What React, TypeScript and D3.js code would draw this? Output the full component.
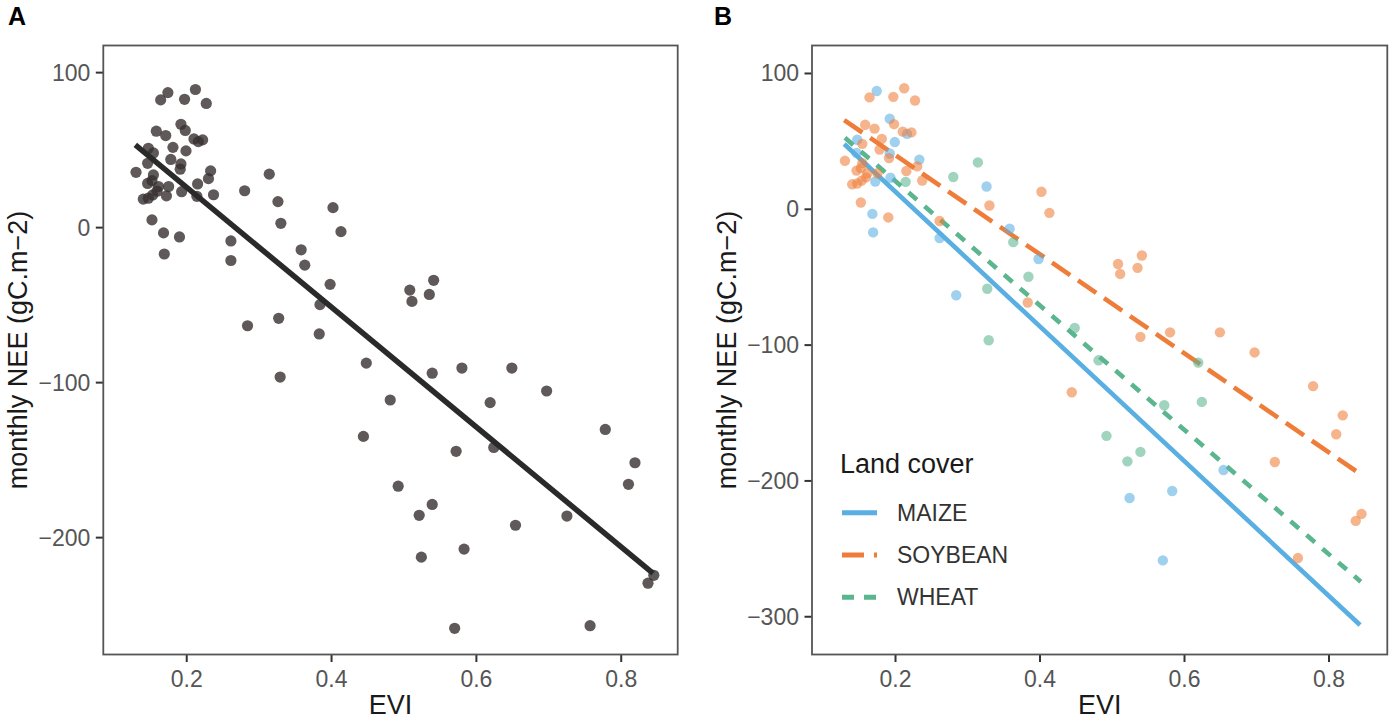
import { useEffect, useRef } from 'react';
import * as d3 from 'd3';

type Pt = [number, number]; // [EVI, monthly NEE]

// points per land cover (same points drawn grey in panel A)
const maize: Pt[] = [
  [0.174, 87.1], [0.192, 66.7], [0.216, 55.5], [0.199, 49.5], [0.147, 51.2],
  [0.192, 41.1], [0.146, 41.5], [0.233, 36.6], [0.193, 23.2], [0.172, 20.5],
  [0.168, -3.4], [0.169, -17.0], [0.261, -21.2], [0.326, 16.8], [0.358, -14.3],
  [0.398, -36.6], [0.284, -63.3], [0.654, -192.0], [0.583, -207.4], [0.524, -212.6],
  [0.570, -258.5],
];

const soybean: Pt[] = [
  [0.164, 82.4], [0.212, 89.1], [0.197, 82.8], [0.227, 80.1], [0.198, 62.7],
  [0.158, 62.2], [0.171, 59.4], [0.210, 57.2], [0.222, 56.6], [0.181, 51.8],
  [0.154, 48.2], [0.178, 44.0], [0.130, 35.7], [0.191, 37.7], [0.154, 34.0],
  [0.152, 30.3], [0.230, 31.6], [0.146, 28.5], [0.161, 26.5], [0.175, 26.5],
  [0.215, 28.2], [0.159, 23.5], [0.153, 21.1], [0.237, 21.2], [0.140, 18.4],
  [0.147, 19.0], [0.152, 5.0], [0.190, -6.0], [0.261, -8.6], [0.330, 2.8],
  [0.402, 12.9], [0.413, -2.6], [0.383, -68.6], [0.508, -40.3], [0.511, -47.6],
  [0.541, -34.0], [0.535, -43.1], [0.539, -93.9], [0.580, -90.6], [0.649, -90.6],
  [0.697, -105.4], [0.444, -134.7], [0.778, -130.2], [0.819, -151.7], [0.810, -165.6],
  [0.725, -186.1], [0.845, -224.3], [0.837, -229.4], [0.757, -256.8],
];

const wheat: Pt[] = [
  [0.214, 20.2], [0.280, 23.8], [0.314, 34.5], [0.363, -24.2], [0.384, -49.7],
  [0.327, -58.5], [0.329, -96.4], [0.448, -87.4], [0.481, -111.2], [0.619, -112.9],
  [0.572, -144.3], [0.624, -141.8], [0.492, -166.8], [0.539, -178.6], [0.521, -185.6],
];

// fitted lines, start and end
const fitAll: Pt[] = [[0.129, 53.4], [0.844, -223.0]];
const fitMaize: Pt[] = [[0.129, 48.1], [0.843, -306.1]];
const fitSoybean: Pt[] = [[0.129, 65.7], [0.845, -195.5]];
const fitWheat: Pt[] = [[0.130, 52.7], [0.844, -274.2]];

const coverNames = ['MAIZE', 'SOYBEAN', 'WHEAT'];
const xTicks = [0.2, 0.4, 0.6, 0.8];
const yTicksA = [100, 0, -100, -200];
const yTicksB = [100, 0, -100, -200, -300];

const FONT = '"Liberation Sans", Arial, Helvetica, sans-serif';
const COLORS = ['#5aafe2', '#ef7d3a', '#5bb58f'];
const DASH_LINE = ['', '22,9.5', '11,10'];
const DASH_KEY = ['', '22,10', '12,10'];

type Panel = {
  left: number; right: number; top: number; bottom: number;
  xDomain: [number, number]; yDomain: [number, number];
  yTicks: number[]; label: string; labelX: number; titleX: number;
};

function drawAxes(g: d3.Selection<SVGGElement, unknown, null, undefined>, p: Panel) {
  const x = d3.scaleLinear().domain(p.xDomain).range([p.left, p.right]);
  const y = d3.scaleLinear().domain(p.yDomain).range([p.bottom, p.top]);
  const fmtY = d3.format('d');
  const fmtX = d3.format('.1f');

  // y ticks
  g.selectAll(null).data(p.yTicks).join('line')
    .attr('x1', p.left - 7.5).attr('x2', p.left)
    .attr('y1', (d) => y(d)).attr('y2', (d) => y(d))
    .attr('stroke', '#333').attr('stroke-width', 2);
  g.selectAll(null).data(p.yTicks).join('text')
    .attr('x', p.left - 13).attr('y', (d) => y(d))
    .attr('text-anchor', 'end').attr('dominant-baseline', 'central')
    .attr('font-family', FONT).attr('font-size', 23).attr('fill', '#555')
    .text((d) => fmtY(d));

  // x ticks
  g.selectAll(null).data(xTicks).join('line')
    .attr('x1', (d) => x(d)).attr('x2', (d) => x(d))
    .attr('y1', p.bottom).attr('y2', p.bottom + 7.5)
    .attr('stroke', '#333').attr('stroke-width', 2);
  g.selectAll(null).data(xTicks).join('text')
    .attr('x', (d) => x(d)).attr('y', p.bottom + 32)
    .attr('text-anchor', 'middle')
    .attr('font-family', FONT).attr('font-size', 23).attr('fill', '#555')
    .text((d) => fmtX(d));

  // axis titles
  g.append('text')
    .attr('x', (p.left + p.right) / 2).attr('y', 714)
    .attr('text-anchor', 'middle')
    .attr('font-family', FONT).attr('font-size', 27).attr('fill', '#1a1a1a')
    .text('EVI');
  g.append('text')
    .attr('transform', `translate(${p.titleX},${(p.top + p.bottom) / 2}) rotate(-90)`)
    .attr('text-anchor', 'middle').attr('dominant-baseline', 'central')
    .attr('font-family', FONT).attr('font-size', 27).attr('fill', '#1a1a1a')
    .text('monthly NEE (gC.m\u22122)');

  // panel tag
  g.append('text')
    .attr('x', p.labelX).attr('y', 25)
    .attr('font-family', FONT).attr('font-size', 25).attr('font-weight', 'bold')
    .attr('fill', '#000')
    .text(p.label);

  return { x, y };
}

function drawBorder(g: d3.Selection<SVGGElement, unknown, null, undefined>, p: Panel) {
  g.append('rect')
    .attr('x', p.left).attr('y', p.top)
    .attr('width', p.right - p.left).attr('height', p.bottom - p.top)
    .attr('fill', 'none').attr('stroke', '#555').attr('stroke-width', 1.8);
}

export default function App() {
  const svgRef = useRef<SVGSVGElement>(null);

  useEffect(() => {
    document.body.style.margin = '0';
    if (!svgRef.current) return;
    const svg = d3.select(svgRef.current);
    svg.selectAll('*').remove();

    const panelA: Panel = {
      left: 103.3, right: 677.7, top: 45.5, bottom: 654.5,
      xDomain: [0.0848, 0.878], yDomain: [-275.4, 117.5],
      yTicks: yTicksA, label: 'A', labelX: 8, titleX: 18,
    };
    const panelB: Panel = {
      left: 812, right: 1387.3, top: 45.5, bottom: 654.5,
      xDomain: [0.0844, 0.8807], yDomain: [-327.8, 120.6],
      yTicks: yTicksB, label: 'B', labelX: 714, titleX: 727,
    };

    const groups = [maize, soybean, wheat];
    const fits = [fitMaize, fitSoybean, fitWheat];

    // Panel A: all points in grey with one fit
    const gA = svg.append('g');
    const a = drawAxes(gA, panelA);
    const all = groups.flat();
    gA.selectAll(null).data(all).join('circle')
      .attr('cx', (d) => a.x(d[0])).attr('cy', (d) => a.y(d[1]))
      .attr('r', 5.6).attr('fill', '#372f2f').attr('fill-opacity', 0.8);
    const lineA = d3.line<Pt>().x((d) => a.x(d[0])).y((d) => a.y(d[1]));
    gA.append('path').datum(fitAll)
      .attr('d', lineA).attr('fill', 'none')
      .attr('stroke', '#2a2a2a').attr('stroke-width', 5.5);
    drawBorder(gA, panelA);

    // Panel B: coloured by land cover, one fit each
    const gB = svg.append('g');
    const b = drawAxes(gB, panelB);
    const lineB = d3.line<Pt>().x((d) => b.x(d[0])).y((d) => b.y(d[1]));
    fits.forEach((f, i) => {
      gB.append('path').datum(f)
        .attr('d', lineB).attr('fill', 'none')
        .attr('stroke', COLORS[i]).attr('stroke-width', 4.6)
        .attr('stroke-dasharray', DASH_LINE[i] || null);
    });
    groups.forEach((pts, i) => {
      gB.selectAll(null).data(pts).join('circle')
        .attr('cx', (d) => b.x(d[0])).attr('cy', (d) => b.y(d[1]))
        .attr('r', 5.2).attr('fill', COLORS[i]).attr('fill-opacity', 0.58);
    });
    drawBorder(gB, panelB);

    // Legend
    const legend = gB.append('g');
    legend.append('text')
      .attr('x', 840).attr('y', 472.7)
      .attr('font-family', FONT).attr('font-size', 27).attr('fill', '#1a1a1a')
      .text('Land cover');
    const keyY = d3.scalePoint<string>().domain(coverNames).range([512.7, 597.3]);
    coverNames.forEach((name, i) => {
      legend.append('line')
        .attr('x1', 842).attr('x2', 877)
        .attr('y1', keyY(name)!).attr('y2', keyY(name)!)
        .attr('stroke', COLORS[i]).attr('stroke-width', 5)
        .attr('stroke-dasharray', DASH_KEY[i] || null);
      legend.append('text')
        .attr('x', 897).attr('y', keyY(name)!)
        .attr('dominant-baseline', 'central')
        .attr('font-family', FONT).attr('font-size', 23).attr('fill', '#333')
        .text(name);
    });
  }, []);

  return <svg ref={svgRef} width={1389} height={720} style={{ display: 'block', background: '#fff' }} />;
}
